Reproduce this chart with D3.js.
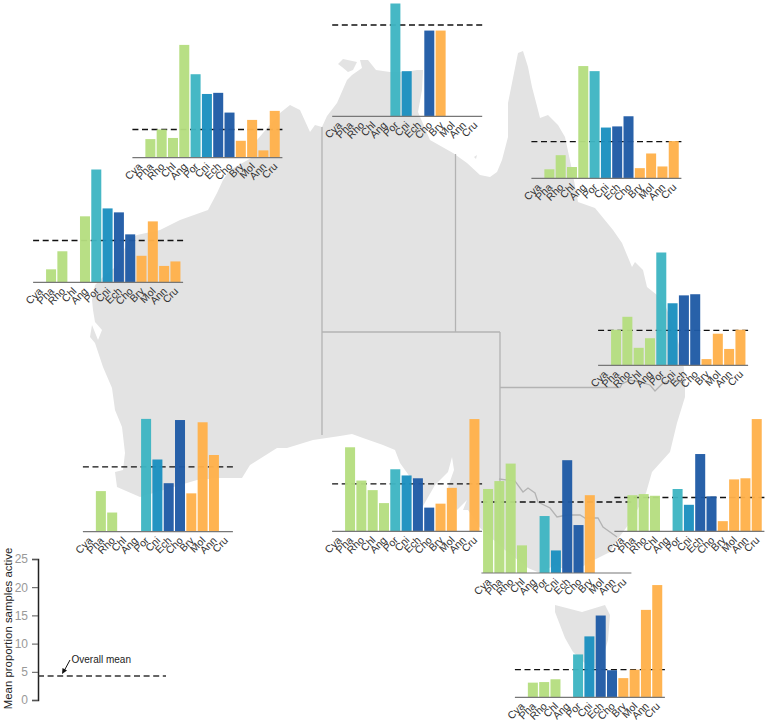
<!DOCTYPE html>
<html>
<head>
<meta charset="utf-8">
<style>
  html, body { margin: 0; padding: 0; background: #fff; }
  text { font-family: "Liberation Sans", Arial, sans-serif; }
</style>
<script src="https://cdn.jsdelivr.net/npm/d3@7"></script>
</head>
<body>
<div id="chart"></div>
<script>
const categories = ["Cya","Pha","Rho","Chl","Ang","Por","Cni","Ech","Cho","Bry","Mol","Ann","Cru"];
const categoryColors = ["#b5de80","#b5de80","#b5de80","#b5de80","#b5de80","#3eb5c3","#1b90c0","#1f5ba6","#1f5ba6","#ffb14b","#ffb14b","#ffb14b","#ffb14b"];

// mean proportion of samples active per region
const kimberleyValues = [0, 3.3, 5.0, 3.5, 20.0, 14.8, 11.3, 11.5, 8.0, 3.0, 6.7, 1.3, 8.3];
const pilbaraValues   = [0, 2.3, 5.5, 0, 11.7, 20.0, 13.1, 12.4, 8.5, 4.7, 10.8, 2.9, 3.7];
const topEndValues    = [0, 0, 0, 0, 0, 20.0, 8.0, 0, 15.2, 15.2, 0, 0, 0];
const capeYorkValues  = [0, 1.6, 4.1, 2.0, 19.9, 19.0, 9.0, 9.2, 11.0, 1.8, 4.4, 2.1, 6.6];
const queenslandValues = [0, 6.3, 8.6, 3.1, 4.8, 20.0, 11.0, 12.4, 12.6, 1.1, 5.6, 2.9, 6.3];
const swWaValues      = [0, 7.2, 3.4, 0, 0, 20.0, 12.8, 8.6, 19.8, 6.8, 19.4, 13.6, 0];
const saValues        = [0, 14.9, 9.0, 7.3, 5.0, 11.0, 9.9, 9.4, 4.2, 4.9, 7.7, 0, 19.9];
const victoriaValues  = [14.9, 16.3, 19.4, 4.9, 0, 10.1, 4.0, 20.0, 8.5, 13.8, 0, 0, 0];
const nswValues       = [0, 6.4, 6.6, 6.3, 0, 7.5, 4.7, 13.7, 6.2, 1.8, 9.2, 9.4, 19.9];
const tasmaniaValues  = [0, 2.6, 2.7, 3.2, 0, 7.6, 10.8, 14.5, 4.8, 3.4, 4.9, 15.5, 19.9];

const regionMeans = [5.0, 7.4, 16.2, 6.5, 6.2, 11.5, 8.4, 12.6, 6.0, 4.9];
const overallMean = 4.25;
const yTicks = [0, 5, 10, 15, 20, 25];

// where each small chart sits on the map
const panels = [
  {values: kimberleyValues, x: 133.4, base: 157.7},
  {values: pilbaraValues, x: 34.1, base: 282.3},
  {values: topEndValues, x: 333.2, base: 116.3},
  {values: capeYorkValues, x: 532.4, base: 178.3},
  {values: queenslandValues, x: 599.1, base: 365.3},
  {values: swWaValues, x: 83.9, base: 531.7},
  {values: saValues, x: 333.1, base: 531.3},
  {values: victoriaValues, x: 482.4, base: 573},
  {values: nswValues, x: 615.4, base: 531.3},
  {values: tasmaniaValues, x: 515.9, base: 697.3}
];

// map outlines, traced in page pixels
const mainland = [[327,116],[337,103],[347,80],[352,75],[362,68],[360,60],[368,60],[376,70],[390,72],[405,72],[417,70],[423,70],
  [422,90],[418,112],[430,140],[453,153],[467,163],[480,175],[490,177],[497,172],[502,160],[508,137],[508,103],[512,83],[518,53],[523,51],
  [528,67],[532,87],[538,110],[540,118],[548,115],[558,125],[565,137],[572,170],[578,202],[595,208],[613,230],[622,243],[632,267],[635,262],
  [643,270],[647,287],[657,295],[665,305],[675,330],[683,360],[685,380],[685,397],[677,423],[670,452],[652,472],[646,493],[632,520],
  [617,540],[610,552],[590,562],[572,573],[555,565],[540,573],[528,568],[505,550],[480,528],[468,510],[463,510],[467,500],[457,510],
  [448,487],[454,470],[452,457],[448,472],[435,485],[423,506],[420,490],[410,477],[400,463],[395,450],[383,445],[363,438],[352,434],[340,436],
  [313,440],[287,448],[277,448],[250,465],[242,478],[220,478],[197,480],[140,497],[117,487],[115,472],[123,470],[125,453],[122,427],
  [115,410],[112,388],[103,367],[95,343],[90,337],[92,325],[98,340],[102,330],[95,322],[93,310],[92,300],[95,285],[105,275],[118,265],[128,240],
  [137,235],[160,230],[180,220],[208,210],[217,193],[223,180],[230,170],[253,157],[257,140],[280,113],[290,105],[300,110],[310,132],[315,125],[322,127]];
const tiwiIslands = [[338,64],[343,59],[357,62],[353,70],[348,72],[342,67]];
const grooteIsland = [[474,157],[477,155],[476,159]];
const tasmaniaOutline = [[555,605],[582,612],[605,605],[610,615],[608,640],[600,668],[590,668],[573,652],[565,638],[555,612]];

const stateBorders = [
  [[322,127],[322,435]],
  [[322,332],[500,332]],
  [[455.5,154],[455.5,332]],
  [[500,332],[500,530]],
  [[499,479],[515,481],[523,492],[528,488],[535,493],[538,502],[550,508],[557,517],[567,515],[580,515],[585,518],[598,518],[603,527],[617,537]],
  [[500,387.5],[620,387.5],[622,384],[630,380],[640,382],[650,385],[655,391],[663,383],[673,380],[684,383]]
];

const width = 768, height = 722;
const svg = d3.select("#chart").append("svg")
  .attr("width", width)
  .attr("height", height)
  .style("display", "block");

// background map
const line = d3.line();
[mainland, tiwiIslands, grooteIsland, tasmaniaOutline].forEach(shape => {
  svg.append("path").attr("d", line(shape) + "Z").attr("fill", "#e3e3e3");
});
stateBorders.forEach(b => {
  svg.append("path").attr("d", line(b)).attr("fill", "none")
    .attr("stroke", "#b3b3b3").attr("stroke-width", 1.3);
});

// shared scales, same units as the axis at bottom left
const yScale = d3.scaleLinear().domain([0, 25]).range([0, 141]);
const xScale = d3.scaleBand().domain(categories).range([0, 147]).paddingInner(0.115).paddingOuter(0.058);
const color = d3.scaleOrdinal().domain(categories).range(categoryColors);

panels.forEach((p, i) => {
  const g = svg.append("g").attr("transform", "translate(" + p.x + "," + p.base + ")");

  // dashes go under the bars, slightly see-through bars let them show
  g.append("line")
    .attr("x1", -1).attr("x2", 149)
    .attr("y1", -yScale(regionMeans[i])).attr("y2", -yScale(regionMeans[i]))
    .attr("stroke", "#111").attr("stroke-width", 1.4).attr("stroke-dasharray", "6,3.6");

  g.selectAll("rect")
    .data(p.values.map((v, j) => ({cat: categories[j], v: v})))
    .join("rect")
    .attr("x", d => xScale(d.cat))
    .attr("width", xScale.bandwidth())
    .attr("y", d => -yScale(d.v))
    .attr("height", d => yScale(d.v))
    .attr("fill", d => color(d.cat))
    .attr("fill-opacity", 0.96);

  const axis = g.append("g").call(d3.axisBottom(xScale).tickSize(0).tickPadding(0));
  axis.select(".domain").remove();
  axis.selectAll("text")
    .attr("font-size", 10.5)
    .attr("fill", "#333")
    .attr("text-anchor", "end")
    .attr("y", 0)
    .attr("dy", 0)
    .attr("transform", "translate(3.5,9.5) rotate(-45)");

  g.append("line")
    .attr("x1", -1).attr("x2", 149)
    .attr("stroke", "#777").attr("stroke-width", 1.2);
});

// legend axis, bottom left
const axisScale = d3.scaleLinear().domain([0, 25]).range([700, 559]);
const legendAxis = svg.append("g")
  .attr("transform", "translate(38,0)")
  .call(d3.axisLeft(axisScale).tickValues(yTicks).tickSize(6).tickPadding(4));
legendAxis.select(".domain").attr("stroke", "#222").attr("stroke-width", 1.5);
legendAxis.selectAll(".tick line").attr("stroke", "#555").attr("stroke-width", 1);
legendAxis.selectAll("text").attr("font-size", 12).attr("fill", "#999");

svg.append("text")
  .attr("transform", "translate(12,628.5) rotate(-90)")
  .attr("text-anchor", "middle")
  .attr("font-size", 11.4)
  .attr("fill", "#222")
  .text("Mean proportion samples active");

svg.append("line")
  .attr("x1", 38).attr("x2", 166)
  .attr("y1", axisScale(overallMean)).attr("y2", axisScale(overallMean))
  .attr("stroke", "#333").attr("stroke-width", 1.4).attr("stroke-dasharray", "6,3.6");

svg.append("text")
  .attr("x", 71.5).attr("y", 663)
  .attr("font-size", 10)
  .attr("fill", "#222")
  .text("Overall mean");

// little arrow pointing at the dashed line
svg.append("path").attr("d", "M70,660L63.5,672").attr("stroke", "#111").attr("stroke-width", 1).attr("fill", "none");
svg.append("path").attr("d", "M62,674L62.5,668L67,670.5Z").attr("fill", "#111");
</script>
</body>
</html>
